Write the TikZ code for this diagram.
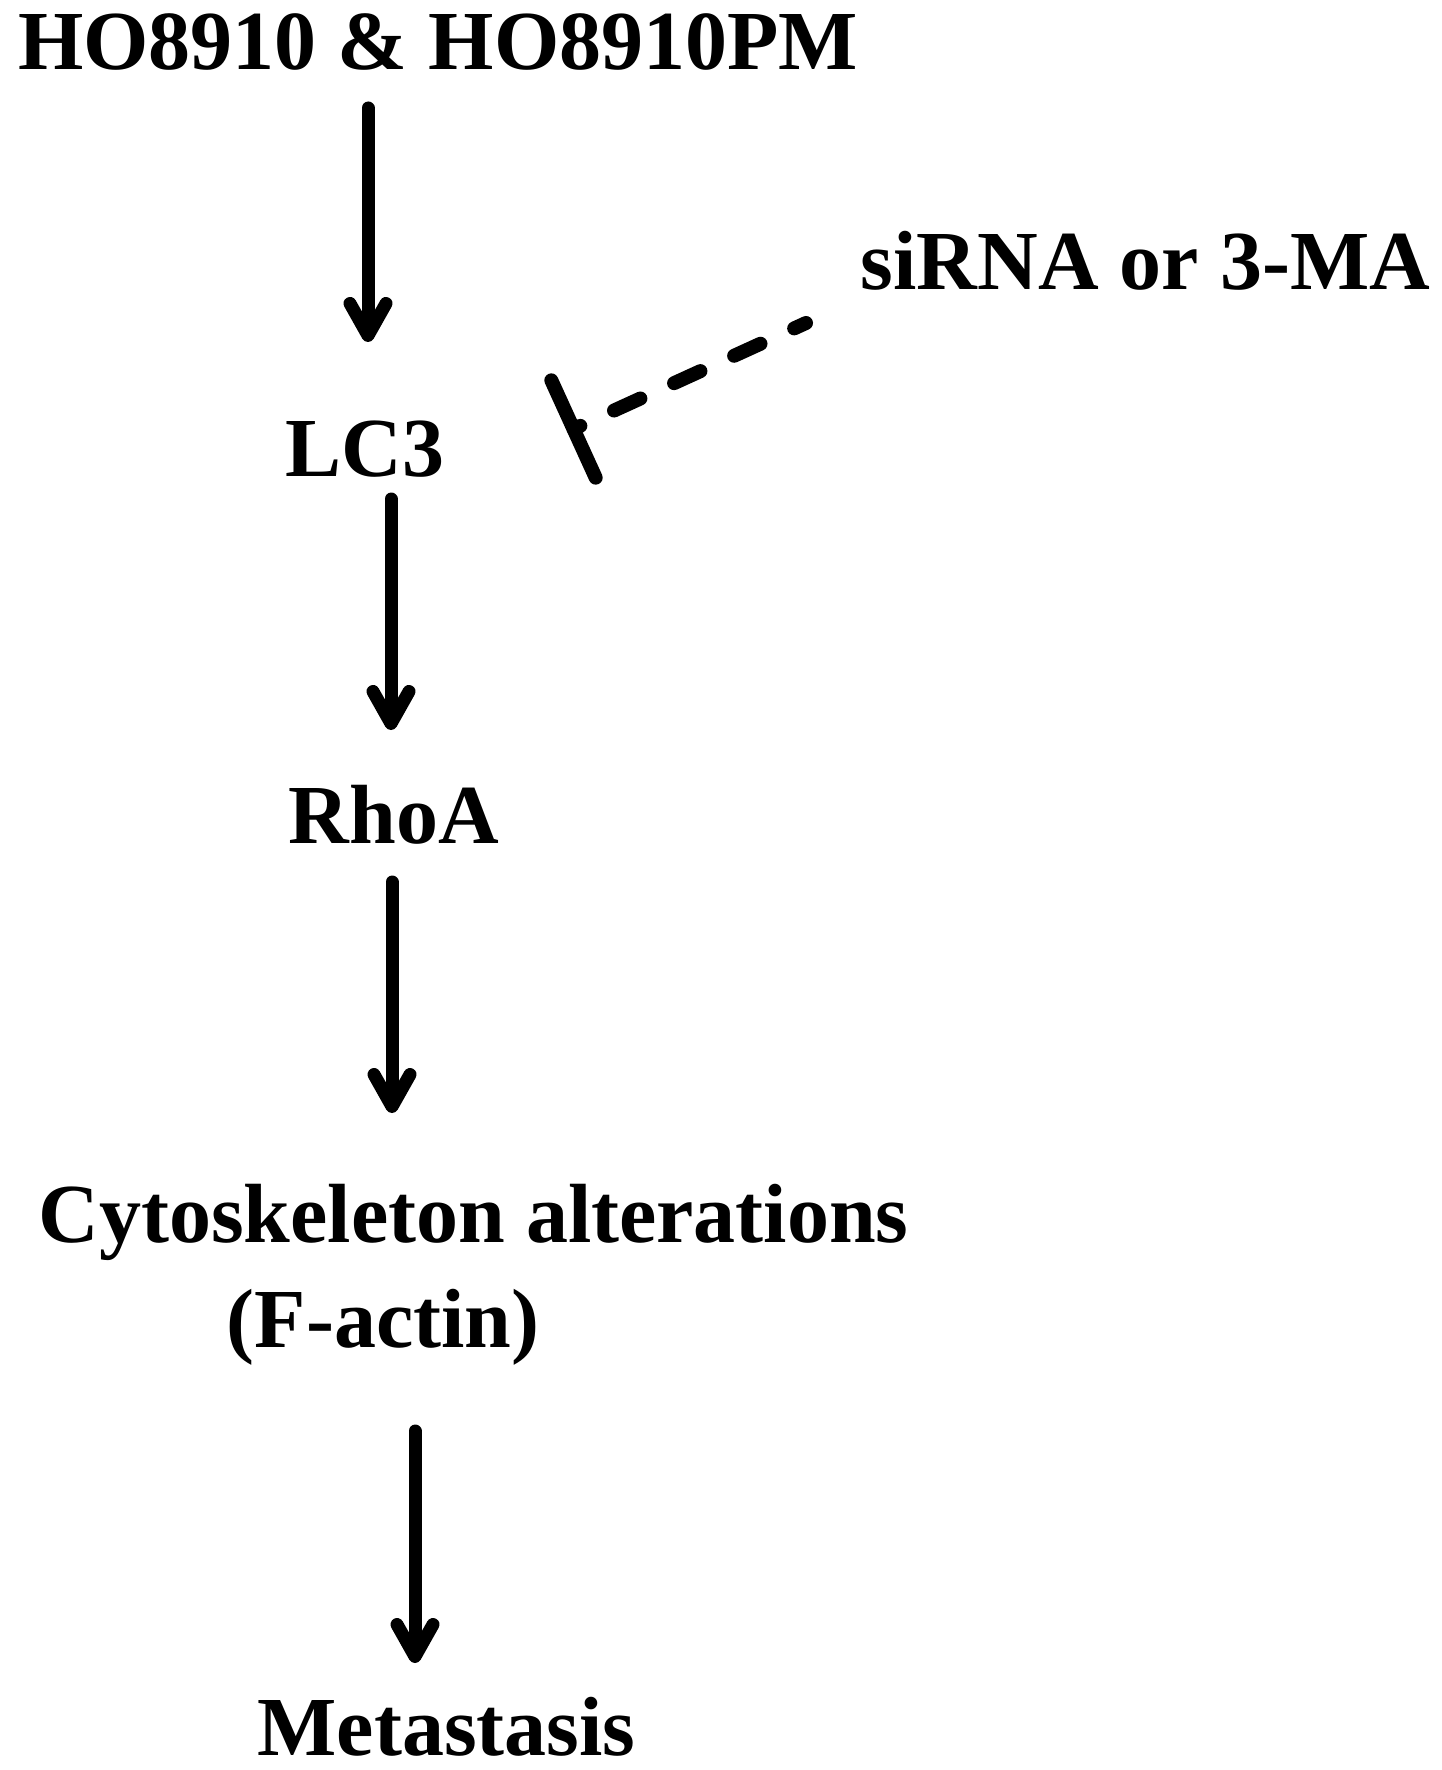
\documentclass[tikz,border=0pt]{standalone}
\usepackage{fontspec}
\setmainfont{Liberation Serif}
\usetikzlibrary{arrows.meta,calc}
\begin{document}
\begin{tikzpicture}[x=0.5pt,y=-0.5pt,
  lbl/.style={inner sep=0pt, anchor=base, font=\fontsize{42}{50}\selectfont\bfseries},
  arr/.style={line width=6.5pt, line cap=round, -{Straight Barb[length=16pt,width=18pt,round]}},
  inhib/.style={line width=7pt, line cap=round, dash pattern=on 14.5pt off 18.5pt, dash phase=8pt},
  inhbar/.style={line width=7pt, line cap=round}]
\fill[white] (0,0) rectangle (1441,1770);
\useasboundingbox (0,0) rectangle (1441,1770);
\node[lbl] (title) at (438,70) {HO8910 \& HO8910PM};
\node[lbl] (sirna) at (1145.5,290) {siRNA or 3-MA};
\node[lbl] (lc3) at (365,476) {LC3};
\node[lbl] (rhoa) at (394,843) {RhoA};
\node[lbl] (cyto) at (473.5,1242) {Cytoskeleton alterations};
\node[lbl] (factin) at (383,1347) {(F-actin)};
\node[lbl] (meta) at (446.5,1755) {Metastasis};
\draw[arr] ([shift={(-70,38)}]title.base) -- ([shift={(3,-134)}]lc3.base);
\draw[arr] ([shift={(26,23)}]lc3.base) -- ([shift={(-3,-113)}]rhoa.base);
\draw[arr] ([shift={(-2,39)}]rhoa.base) -- ([shift={(-81.5,-129)}]cyto.base);
\draw[arr] ([shift={(32,84)}]factin.base) -- ([shift={(-31.5,-92)}]meta.base);
\coordinate (inhS) at ([shift={(-339.5,33)}]sirna.base);
\coordinate (inhE) at ([shift={(208.5,-47)}]lc3.base);
\draw[inhib] (inhS) -- (inhE);
\draw[inhbar] ($(inhE)!26.75pt!90:(inhS)$) -- ($(inhE)!26.75pt!-90:(inhS)$);
\end{tikzpicture}
\end{document}
